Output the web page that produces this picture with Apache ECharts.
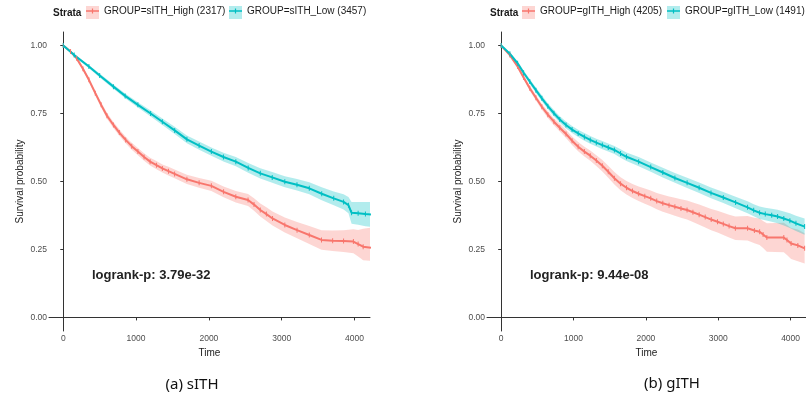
<!DOCTYPE html>
<html>
<head>
<meta charset="utf-8">
<script src="https://cdn.jsdelivr.net/npm/echarts@6/dist/echarts.min.js"></script>
<style>html,body{margin:0;padding:0;background:#fff}#c{width:806px;height:396px}</style>
</head>
<body>
<div id="c"></div>
<script>
// ---------- data ----------
const yTicks = [0, 0.25, 0.5, 0.75, 1];
const xTicks = [0, 1000, 2000, 3000, 4000];

const legendA = ['GROUP=sITH_High (2317)', 'GROUP=sITH_Low (3457)'];
const legendB = ['GROUP=gITH_High (4205)', 'GROUP=gITH_Low (1491)'];
const pvalA = 'logrank-p: 3.79e-32';
const pvalB = 'logrank-p: 9.44e-08';
const captionA = '(a) sITH';
const captionB = '(b) gITH';

// (a) sITH - High
const aHighT  = [0,100,184,270,352,440,520,600,689,770,857,940,1025,1110,1193,1280,1361,1445,1529,1698,1866,2034,2202,2370,2538,2620,2706,2790,2874,3043,3211,3379,3547,3700,3850,3985,4050,4119,4226];
const aHighS  = [1.0,0.978,0.953,0.915,0.874,0.825,0.782,0.742,0.708,0.68,0.653,0.63,0.61,0.59,0.573,0.56,0.548,0.538,0.528,0.508,0.495,0.484,0.462,0.444,0.432,0.415,0.395,0.38,0.364,0.34,0.321,0.303,0.285,0.282,0.281,0.279,0.27,0.26,0.256];
const aHighLo = [1.0,0.974,0.947,0.908,0.866,0.816,0.772,0.731,0.697,0.668,0.641,0.617,0.597,0.576,0.559,0.545,0.533,0.522,0.512,0.491,0.477,0.465,0.442,0.423,0.41,0.392,0.371,0.355,0.338,0.312,0.291,0.27,0.249,0.244,0.241,0.236,0.224,0.21,0.208];
const aHighHi = [1.0,0.982,0.959,0.922,0.882,0.834,0.792,0.753,0.719,0.692,0.665,0.643,0.623,0.604,0.587,0.575,0.563,0.554,0.544,0.525,0.513,0.503,0.482,0.465,0.454,0.438,0.419,0.405,0.39,0.368,0.351,0.336,0.321,0.32,0.321,0.324,0.322,0.326,0.33];
// (a) sITH - Low
const aLowT  = [0,150,352,500,689,850,1025,1200,1361,1530,1698,1866,2034,2200,2370,2540,2706,2870,3043,3210,3379,3550,3715,3850,3917,3960,4050,4150,4226];
const aLowS  = [1.0,0.965,0.923,0.89,0.849,0.815,0.782,0.75,0.72,0.688,0.655,0.632,0.61,0.59,0.573,0.55,0.53,0.515,0.499,0.488,0.475,0.455,0.438,0.425,0.413,0.385,0.383,0.38,0.379];
const aLowLo = [1.0,0.961,0.917,0.883,0.841,0.806,0.772,0.739,0.708,0.675,0.641,0.617,0.595,0.574,0.556,0.532,0.511,0.495,0.479,0.467,0.453,0.431,0.413,0.397,0.383,0.345,0.341,0.335,0.333];
const aLowHi = [1.0,0.969,0.929,0.897,0.857,0.824,0.792,0.761,0.732,0.701,0.669,0.647,0.625,0.606,0.59,0.568,0.549,0.535,0.519,0.509,0.497,0.479,0.463,0.453,0.443,0.425,0.425,0.425,0.425];

// (b) gITH - High
const bHighT  = [0,120,227,310,395,480,562,645,729,810,896,980,1064,1150,1231,1315,1398,1480,1565,1650,1732,1815,1900,1985,2067,2150,2234,2320,2401,2485,2569,2650,2736,2820,2903,2990,3070,3150,3237,3405,3500,3572,3620,3672,3906,3950,4007,4100,4194];
const bHighS  = [1.0,0.965,0.923,0.883,0.843,0.808,0.775,0.746,0.72,0.698,0.675,0.65,0.628,0.61,0.595,0.577,0.558,0.536,0.512,0.492,0.477,0.465,0.455,0.446,0.438,0.428,0.42,0.413,0.407,0.401,0.395,0.387,0.378,0.369,0.36,0.352,0.344,0.336,0.328,0.328,0.32,0.315,0.305,0.294,0.294,0.285,0.272,0.265,0.254];
const bHighLo = [1.0,0.96,0.916,0.875,0.834,0.798,0.764,0.734,0.707,0.684,0.66,0.634,0.611,0.592,0.576,0.557,0.537,0.514,0.489,0.468,0.452,0.439,0.428,0.418,0.409,0.398,0.389,0.381,0.374,0.367,0.36,0.351,0.341,0.331,0.321,0.312,0.303,0.294,0.285,0.283,0.273,0.266,0.255,0.242,0.24,0.23,0.215,0.207,0.198];
const bHighHi = [1.0,0.97,0.93,0.891,0.852,0.818,0.786,0.758,0.733,0.712,0.69,0.666,0.645,0.628,0.614,0.597,0.579,0.558,0.535,0.516,0.502,0.491,0.482,0.474,0.467,0.458,0.451,0.445,0.44,0.435,0.43,0.423,0.415,0.407,0.399,0.392,0.385,0.378,0.371,0.373,0.367,0.364,0.355,0.346,0.348,0.34,0.329,0.323,0.31];
// (b) gITH - Low
const bLowT  = [0,120,227,310,395,480,562,645,729,810,896,980,1064,1150,1231,1315,1398,1480,1565,1650,1732,1900,2067,2234,2401,2570,2736,2900,3070,3240,3405,3490,3572,3650,3739,3820,3906,3990,4074,4194];
const bLowS  = [1.0,0.97,0.935,0.9,0.868,0.836,0.806,0.777,0.751,0.728,0.708,0.691,0.677,0.664,0.653,0.643,0.634,0.625,0.616,0.603,0.591,0.573,0.553,0.533,0.513,0.495,0.477,0.458,0.441,0.423,0.405,0.394,0.385,0.38,0.376,0.371,0.364,0.356,0.346,0.334];
const bLowLo = [1.0,0.965,0.928,0.892,0.859,0.826,0.795,0.766,0.739,0.716,0.695,0.678,0.664,0.65,0.639,0.629,0.619,0.61,0.601,0.587,0.575,0.556,0.536,0.515,0.495,0.476,0.458,0.438,0.421,0.402,0.383,0.372,0.362,0.357,0.352,0.346,0.338,0.329,0.318,0.304];
const bLowHi = [1.0,0.975,0.942,0.908,0.877,0.846,0.817,0.788,0.763,0.74,0.721,0.704,0.69,0.678,0.667,0.657,0.649,0.64,0.631,0.619,0.607,0.59,0.57,0.551,0.531,0.514,0.496,0.478,0.461,0.444,0.427,0.416,0.408,0.403,0.4,0.396,0.39,0.383,0.374,0.364];

// ---------- styling ----------
const RED = '#F8766D', TEAL = '#00BFC4';
const RED_BAND = 'rgba(248,118,109,0.30)', TEAL_BAND = 'rgba(0,191,196,0.30)';
const AX = '#333333', TICKLAB = '#4d4d4d';
const FONT = 'Liberation Sans, Arial, sans-serif';

function pairs(t, s) { return t.map((x, i) => [x, s[i]]); }

function band(idx, t, lo, hi, color) {
  const data = t.map((x, i) => [x, lo[i], hi[i]]);
  return {
    type: 'custom', xAxisIndex: idx, yAxisIndex: idx, silent: true, z: 1, clip: true,
    data: data, encode: { x: 0, y: [1, 2] },
    renderItem: function (params, api) {
      if (params.dataIndex !== 0) return null;
      const top = data.map(d => api.coord([d[0], d[2]]));
      const bot = data.map(d => api.coord([d[0], d[1]])).reverse();
      return { type: 'polygon', shape: { points: top.concat(bot) }, style: { fill: color } };
    }
  };
}
function curve(idx, name, t, s, color) {
  return {
    type: 'line', name: name, xAxisIndex: idx, yAxisIndex: idx, z: 3,
    data: pairs(t, s), showSymbol: true, symbol: 'rect', symbolSize: [1, 5],
    itemStyle: { color: color }, lineStyle: { color: color, width: 2 },
    silent: true, animation: false
  };
}
function xAx(idx) {
  return {
    type: 'value', gridIndex: idx, min: -196, max: 4213,
    name: 'Time', nameLocation: 'middle', nameGap: 14,
    nameTextStyle: { fontSize: 10, color: '#1a1a1a', fontFamily: FONT },
    axisLine: { lineStyle: { color: AX, width: 1 } },
    axisTick: { show: true, length: 3, lineStyle: { color: AX }, customValues: xTicks },
    axisLabel: { fontSize: 8.5, color: TICKLAB, margin: 3, fontFamily: FONT, customValues: xTicks,
      formatter: v => String(Math.round(v)) },
    splitLine: { show: false }
  };
}
function yAx(idx) {
  return {
    type: 'value', gridIndex: idx, min: -0.05, max: 1.05,
    name: 'Survival probability', nameLocation: 'middle', nameGap: 24,
    nameTextStyle: { fontSize: 10, color: '#222', fontFamily: FONT },
    axisLine: { show: true, lineStyle: { color: AX, width: 1 } },
    axisTick: { show: true, length: 3, lineStyle: { color: AX }, customValues: yTicks },
    axisLabel: { fontSize: 8.5, color: TICKLAB, margin: 2, fontFamily: FONT, customValues: yTicks,
      formatter: v => v.toFixed(2) },
    splitLine: { show: false }
  };
}
function legend(left, name) {
  return {
    left: left, top: 6, orient: 'horizontal', selectedMode: false, padding: 0,
    itemWidth: 13, itemHeight: 13, itemGap: 5,
    icon: 'path://M0,5.2 L13,5.2 L13,6.8 L0,6.8 Z M5.9,3.5 L7.1,3.5 L7.1,8.5 L5.9,8.5 Z',
    textStyle: { fontSize: 10, color: '#1a1a1a', fontFamily: FONT },
    data: [name]
  };
}
function txt(x, y, text, size, weight, align, color, family) {
  return { type: 'text', x: x, y: y, z: 10,
    style: { text: text, fontSize: size, fontWeight: weight, fill: color || '#1a1a1a',
      fontFamily: family || FONT, textAlign: align || 'left', textVerticalAlign: 'middle' } };
}
function keyBg(x, color) {
  return { type: 'rect', shape: { x: x, y: 6, width: 13, height: 13 }, style: { fill: color }, z: 0 };
}

const chart = echarts.init(document.getElementById('c'), null, { renderer: 'canvas' });
chart.setOption({
  animation: false,
  backgroundColor: '#fff',
  grid: [
    { left: 49, top: 32, width: 321, height: 299 },
    { left: 487, top: 32, width: 321, height: 299 }
  ],
  xAxis: [xAx(0), xAx(1)],
  yAxis: [yAx(0), yAx(1)],
  legend: [legend(86, legendA[0]), legend(229, legendA[1]), legend(522, legendB[0]), legend(667, legendB[1])],
  series: [
    band(0, aHighT, aHighLo, aHighHi, RED_BAND),
    band(0, aLowT, aLowLo, aLowHi, TEAL_BAND),
    curve(0, legendA[0], aHighT, aHighS, RED),
    curve(0, legendA[1], aLowT, aLowS, TEAL),
    band(1, bHighT, bHighLo, bHighHi, RED_BAND),
    band(1, bLowT, bLowLo, bLowHi, TEAL_BAND),
    curve(1, legendB[0], bHighT, bHighS, RED),
    curve(1, legendB[1], bLowT, bLowS, TEAL)
  ],
  graphic: [
    keyBg(86, RED_BAND), keyBg(229, TEAL_BAND),
    keyBg(522, RED_BAND), keyBg(667, TEAL_BAND),
    txt(53, 13, 'Strata', 10, 'bold', 'left'),
    txt(490, 13, 'Strata', 10, 'bold', 'left'),
    txt(92, 275, pvalA, 13, 'bold', 'left', '#222'),
    txt(530, 275, pvalB, 13, 'bold', 'left', '#222'),
    txt(192, 385, captionA, 15, 'normal', 'center', '#111', 'Noto Sans, sans-serif'),
    txt(672, 384, captionB, 15, 'normal', 'center', '#111', 'Noto Sans, sans-serif')
  ]
});
</script>
</body>
</html>
